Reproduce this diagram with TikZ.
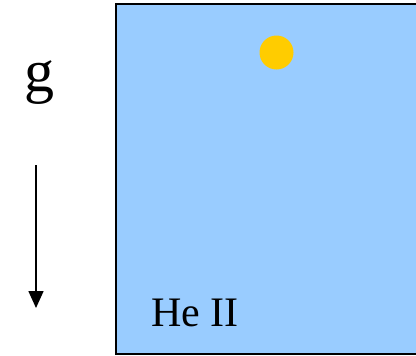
\documentclass[tikz,border=0pt]{standalone}
\usepackage{fontspec}
\setmainfont{Liberation Serif}
\usetikzlibrary{positioning,arrows.meta,calc}
\definecolor{heblue}{HTML}{99CCFF}
\definecolor{dropyellow}{HTML}{FFCC00}

\begin{document}
\begin{tikzpicture}[
    x=1pt, y=-1pt, >={Triangle[length=17pt,width=15pt]},
    bath/.style={draw=black, line width=2pt, fill=heblue},
    drop/.style={circle, fill=dropyellow, inner sep=0pt, minimum size=34pt},
    lbl/.style={inner sep=0pt, font=\fontsize{42}{42}\selectfont}]
  \clip (0,0) rectangle (416,356);
  \useasboundingbox (0,0) rectangle (416,356);
  % helium bath
  \draw[bath] (116,4) rectangle (430,354);
  \node[drop] (ball) at (276.5,52.5) {};
  \node[lbl, anchor=base west] (he) at (151,326.5) {He II};
  % gravity
  \node[lbl, font=\fontsize{60}{60}\selectfont, anchor=base] (g) at (39.5,91) {g};
  \coordinate (gtop) at (36,165);
  \coordinate (gbot) at (36,308);
  \draw[->, line width=1.6pt] (gtop) -- (gbot);
\end{tikzpicture}
\end{document}
